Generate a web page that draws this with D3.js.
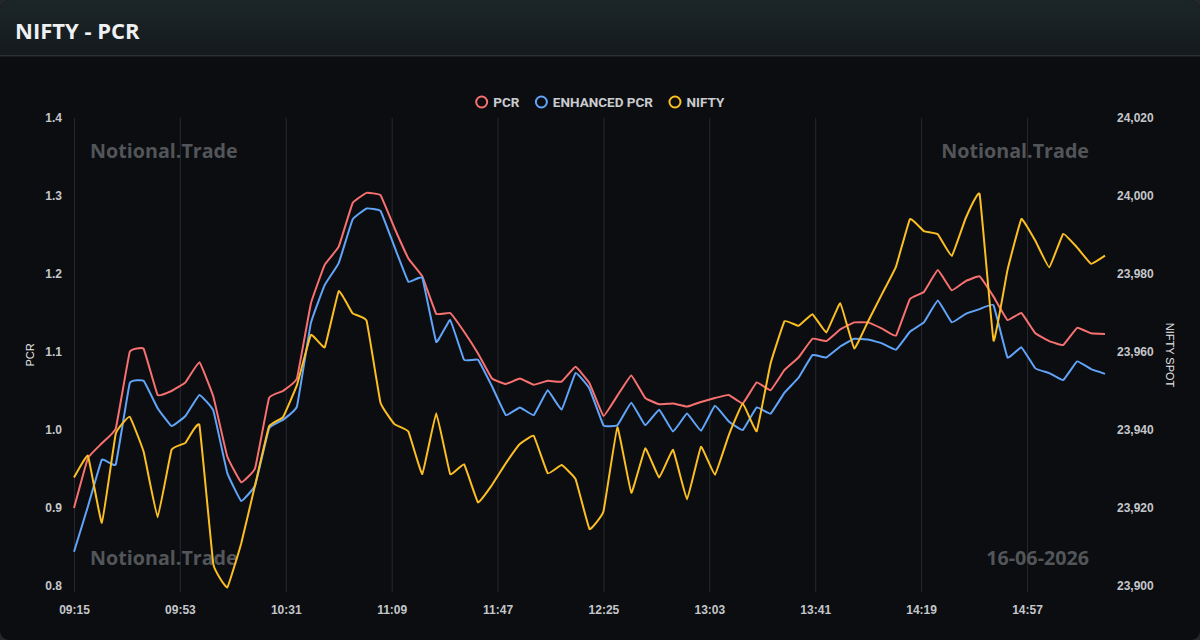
<!DOCTYPE html>
<html>
<head>
<meta charset="utf-8">
<script src="https://cdn.jsdelivr.net/npm/d3@7"></script>
<style>
  html, body { margin: 0; padding: 0; background: #24282c; }
  svg { display: block; }
</style>
</head>
<body>
<div id="chart"></div>
<script>
// times of each sample (5 min)
var times = ["09:15","09:20","09:25","09:30","09:35","09:40","09:45","09:50","09:55",
  "10:00","10:05","10:10","10:15","10:20","10:25","10:30","10:35","10:40","10:45","10:50","10:55",
  "11:00","11:05","11:10","11:15","11:20","11:25","11:30","11:35","11:40","11:45","11:50","11:55",
  "12:00","12:05","12:10","12:15","12:20","12:25","12:30","12:35","12:40","12:45","12:50","12:55",
  "13:00","13:05","13:10","13:15","13:20","13:25","13:30","13:35","13:40","13:45","13:50","13:55",
  "14:00","14:05","14:10","14:15","14:20","14:25","14:30","14:35","14:40","14:45","14:50","14:55",
  "15:00","15:05","15:10","15:15","15:20","15:25"];

var pcr = [0.900, 0.964, 0.983, 1.002, 1.100, 1.104, 1.045, 1.050, 1.061, 1.087,
  1.043, 0.966, 0.933, 0.951, 1.041, 1.050, 1.066, 1.162, 1.212, 1.235,
  1.291, 1.304, 1.301, 1.259, 1.220, 1.197, 1.149, 1.150, 1.126, 1.098,
  1.066, 1.059, 1.066, 1.058, 1.063, 1.062, 1.081, 1.060, 1.018, 1.044,
  1.070, 1.041, 1.033, 1.034, 1.030, 1.036, 1.041, 1.045, 1.034, 1.061,
  1.051, 1.077, 1.093, 1.117, 1.114, 1.129, 1.138, 1.138, 1.130, 1.121,
  1.168, 1.177, 1.205, 1.179, 1.191, 1.197, 1.171, 1.141, 1.150, 1.124,
  1.114, 1.109, 1.131, 1.124, 1.123];

var enhancedPcr = [0.844, 0.902, 0.962, 0.956, 1.060, 1.063, 1.028, 1.005, 1.018, 1.045,
  1.025, 0.945, 0.909, 0.929, 1.002, 1.013, 1.030, 1.137, 1.186, 1.214,
  1.270, 1.284, 1.281, 1.235, 1.190, 1.195, 1.113, 1.141, 1.090, 1.090,
  1.056, 1.019, 1.029, 1.019, 1.051, 1.026, 1.073, 1.053, 1.006, 1.006,
  1.035, 1.006, 1.026, 0.998, 1.021, 0.999, 1.031, 1.011, 1.000, 1.029,
  1.021, 1.048, 1.067, 1.096, 1.093, 1.107, 1.117, 1.116, 1.111, 1.103,
  1.126, 1.138, 1.166, 1.138, 1.149, 1.155, 1.160, 1.093, 1.106, 1.079,
  1.073, 1.064, 1.088, 1.078, 1.072];

var nifty = [23927.8, 23933.4, 23916.2, 23939.1, 23943.4, 23934.4, 23917.6, 23934.9, 23936.7, 23941.3,
  23905.6, 23899.6, 23910.9, 23925.9, 23940.9, 23943.3, 23951.5, 23964.4, 23961.2, 23975.6,
  23969.9, 23968.0, 23947.0, 23941.5, 23939.6, 23928.7, 23944.3, 23928.7, 23931.2, 23921.4,
  23925.9, 23931.5, 23936.4, 23938.5, 23928.9, 23931.0, 23927.4, 23914.6, 23919.1, 23940.7,
  23923.9, 23935.3, 23927.8, 23934.9, 23922.2, 23935.7, 23928.5, 23938.7, 23946.8, 23939.7,
  23957.1, 23967.9, 23966.7, 23969.7, 23965.0, 23972.5, 23960.9, 23967.9, 23974.9, 23981.9,
  23994.1, 23991.0, 23990.2, 23984.6, 23994.3, 24000.5, 23962.9, 23981.0, 23994.1, 23988.5,
  23981.7, 23990.3, 23986.8, 23982.6, 23984.7];

var xTickLabels = ["09:15","09:53","10:31","11:09","11:47","12:25","13:03","13:41","14:19","14:57"];
var pcrTicks = [0.8, 0.9, 1.0, 1.1, 1.2, 1.3, 1.4];
var niftyTicks = [23900, 23920, 23940, 23960, 23980, 24000, 24020];

var seriesNames = ["PCR", "ENHANCED PCR", "NIFTY"];
var seriesColors = ["#f87171", "#60a5fa", "#fbbf24"];

var W = 1200, H = 640;
var plot = {left: 74, right: 1105, top: 118, bottom: 586};

function toMin(t) {
  var p = t.split(":");
  return (+p[0]) * 60 + (+p[1]);
}
var t0 = toMin(times[0]);

var svg = d3.select("#chart").append("svg")
  .attr("width", W)
  .attr("height", H);

var defs = svg.append("defs");
var grad = defs.append("linearGradient").attr("id", "hdr").attr("x1", 0).attr("y1", 0).attr("x2", 0).attr("y2", 1);
grad.append("stop").attr("offset", "0%").attr("stop-color", "#1c2629");
grad.append("stop").attr("offset", "100%").attr("stop-color", "#141a1d");

var clip = defs.append("clipPath").attr("id", "card");
clip.append("rect").attr("width", W).attr("height", H).attr("rx", 9);

var card = svg.append("g").attr("clip-path", "url(#card)");
card.append("rect").attr("width", W).attr("height", H).attr("fill", "#0c0d10");
card.append("rect").attr("width", W).attr("height", 55).attr("fill", "url(#hdr)");
card.append("rect").attr("y", 55).attr("width", W).attr("height", 1.5).attr("fill", "#283134");

svg.append("text")
  .attr("x", 15).attr("y", 39)
  .attr("font-family", "'Open Sans', sans-serif")
  .attr("font-weight", "bold")
  .attr("font-size", 22)
  .attr("fill", "#eef0f1")
  .text("NIFTY - PCR");

// scales
var x = d3.scaleLinear()
  .domain([0, toMin(times[times.length - 1]) - t0])
  .range([plot.left, plot.right]);
var yL = d3.scaleLinear().domain([0.8, 1.4]).range([plot.bottom, plot.top]);
var yR = d3.scaleLinear().domain([23900, 24020]).range([plot.bottom, plot.top]);

// vertical grid
var xAxis = d3.axisBottom(x)
  .tickValues(xTickLabels.map(function(t) { return toMin(t) - t0; }))
  .tickSize(-(plot.bottom - plot.top) - 6)
  .tickFormat(function(d, i) { return xTickLabels[i]; });

var gx = svg.append("g")
  .attr("transform", "translate(0," + (plot.bottom + 6) + ")")
  .call(xAxis);
gx.select(".domain").remove();
gx.selectAll("line").attr("stroke", "#25282d").attr("stroke-width", 1);
gx.selectAll("text")
  .attr("y", 13)
  .attr("fill", "#c4c7cb")
  .attr("font-family", "'Liberation Sans', Arial, sans-serif")
  .attr("font-weight", "bold")
  .attr("font-size", 12);

var gl = svg.append("g")
  .attr("transform", "translate(" + (plot.left - 12) + ",0)")
  .call(d3.axisLeft(yL).tickValues(pcrTicks).tickSize(0).tickFormat(d3.format(".1f")));
gl.select(".domain").remove();
gl.selectAll("text")
  .attr("x", 0).attr("dy", "0.32em")
  .attr("fill", "#c4c7cb")
  .attr("font-family", "'Liberation Sans', Arial, sans-serif")
  .attr("font-weight", "bold")
  .attr("font-size", 12);

var gr = svg.append("g")
  .attr("transform", "translate(" + (plot.right + 12) + ",0)")
  .call(d3.axisRight(yR).tickValues(niftyTicks).tickSize(0).tickFormat(d3.format(",")));
gr.select(".domain").remove();
gr.selectAll("text")
  .attr("x", 0).attr("dy", "0.32em")
  .attr("fill", "#c4c7cb")
  .attr("font-family", "'Liberation Sans', Arial, sans-serif")
  .attr("font-weight", "bold")
  .attr("font-size", 12);

// axis titles
svg.append("text")
  .attr("transform", "translate(34,355) rotate(-90)")
  .attr("text-anchor", "middle")
  .attr("fill", "#e4e6e8")
  .attr("font-family", "'Liberation Sans', Arial, sans-serif")
  .attr("font-size", 11)
  .text("PCR");
svg.append("text")
  .attr("transform", "translate(1166,355) rotate(90)")
  .attr("text-anchor", "middle")
  .attr("fill", "#e4e6e8")
  .attr("font-family", "'Liberation Sans', Arial, sans-serif")
  .attr("font-size", 11)
  .text("NIFTY SPOT");

// watermarks
var marks = [
  {t: "Notional.Trade", x: 90, y: 158, a: "start"},
  {t: "Notional.Trade", x: 1089, y: 158, a: "end"},
  {t: "Notional.Trade", x: 90, y: 565, a: "start"},
  {t: "16-06-2026", x: 1089, y: 565, a: "end"}
];
svg.selectAll(".wm").data(marks).enter().append("text")
  .attr("class", "wm")
  .attr("x", function(d) { return d.x; })
  .attr("y", function(d) { return d.y; })
  .attr("text-anchor", function(d) { return d.a; })
  .attr("font-family", "'Open Sans', sans-serif")
  .attr("font-weight", "bold")
  .attr("font-size", 19.7)
  .attr("fill", "#525559")
  .text(function(d) { return d.t; });

// lines
var lineL = d3.line()
  .x(function(d, i) { return x(toMin(times[i]) - t0); })
  .y(function(d) { return yL(d); })
  .curve(d3.curveCardinal.tension(0.75));
var lineR = d3.line()
  .x(function(d, i) { return x(toMin(times[i]) - t0); })
  .y(function(d) { return yR(d); })
  .curve(d3.curveCardinal.tension(0.75));

svg.append("path").datum(pcr)
  .attr("d", lineL).attr("fill", "none")
  .attr("stroke", seriesColors[0]).attr("stroke-width", 2);
svg.append("path").datum(enhancedPcr)
  .attr("d", lineL).attr("fill", "none")
  .attr("stroke", seriesColors[1]).attr("stroke-width", 2);
svg.append("path").datum(nifty)
  .attr("d", lineR).attr("fill", "none")
  .attr("stroke", seriesColors[2]).attr("stroke-width", 2);

// legend
var legend = svg.append("g");
var lx = 0;
seriesNames.forEach(function(name, i) {
  var g = legend.append("g").attr("transform", "translate(" + lx + ",0)");
  g.append("circle")
    .attr("cx", 6).attr("cy", 0).attr("r", 5.5)
    .attr("fill", "none")
    .attr("stroke", seriesColors[i]).attr("stroke-width", 2);
  var t = g.append("text")
    .attr("x", 17.5).attr("y", 5)
    .attr("fill", "#c9ccd0")
    .attr("font-family", "Roboto, 'Liberation Sans', sans-serif")
    .attr("font-weight", "bold")
    .attr("font-size", 13.5)
    .text(name);
  lx += 17.5 + t.node().getComputedTextLength() + 16;
});
var legendW = lx - 16;
legend.attr("transform", "translate(" + (600 - legendW / 2) + ",102)");
</script>
</body>
</html>
